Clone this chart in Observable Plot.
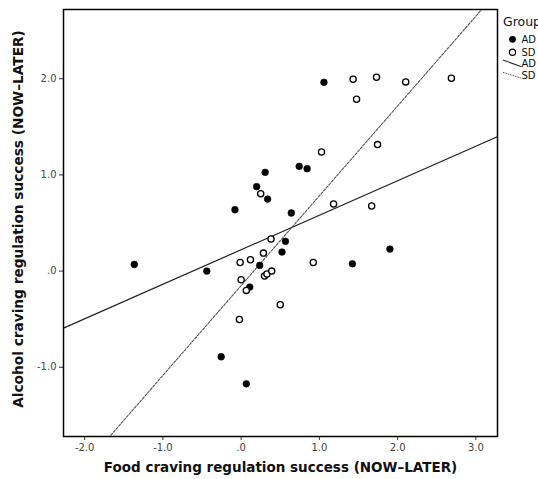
<!DOCTYPE html>
<html>
<head>
<meta charset="utf-8">
<script src="https://cdn.jsdelivr.net/npm/d3@7"></script>
<script src="https://cdn.jsdelivr.net/npm/@observablehq/plot@0.6"></script>
<style>
  html, body { margin: 0; padding: 0; background: #fff; }
  #chart { width: 538px; height: 479px; overflow: hidden; }
</style>
</head>
<body>
<div id="chart"></div>
<script>
// AD group (filled circles)
const adX = [-1.365, -0.439, -0.079, -0.255, 0.066, 0.11, 0.237, 0.198, 0.307, 0.338, 0.522, 0.566, 0.641, 0.742, 0.843, 1.058, 1.422, 1.901];
const adY = [0.069, 0.0, 0.638, -0.891, -1.172, -0.166, 0.059, 0.878, 1.027, 0.749, 0.198, 0.309, 0.604, 1.089, 1.065, 1.963, 0.076, 0.229];
// SD group (open circles)
const sdX = [-0.013, 0.0, -0.022, 0.066, 0.119, 0.25, 0.285, 0.299, 0.33, 0.382, 0.391, 0.5, 0.922, 1.027, 1.181, 1.431, 1.475, 1.668, 1.73, 1.743, 2.103, 2.687];
const sdY = [0.09, -0.09, -0.503, -0.201, 0.118, 0.805, 0.187, -0.052, -0.03, 0.333, 0.0, -0.35, 0.09, 1.238, 0.697, 1.994, 1.786, 0.676, 2.015, 1.315, 1.967, 2.005];
// Fit lines
const fitGroups = ["AD", "SD"];
const fitSlopes = [0.359, 0.934];
const fitIntercepts = [0.222, -0.151];
// Axes
const xDomain = [-2.27, 3.276];
const yDomain = [-1.72, 2.72];
const xTicks = [-2, -1, 0, 1, 2, 3];
const yTicks = [-1, 0, 1, 2];
const xLabel = "Food craving regulation success (NOW\u2013LATER)";
const yLabel = "Alcohol craving regulation success (NOW\u2013LATER)";
const legendTitle = "Group";
const legendLabels = ["AD", "SD", "AD", "SD"];

const points = [
  ...adX.map((x, i) => ({x, y: adY[i], group: "AD"})),
  ...sdX.map((x, i) => ({x, y: sdY[i], group: "SD"}))
];
const fitLines = fitGroups.flatMap((g, i) =>
  xDomain.map(x => ({x, y: fitIntercepts[i] + fitSlopes[i] * x, group: g}))
);
const fmt = d => d === 0 ? ".0" : d.toFixed(1);

const font = "'DejaVu Sans', Verdana, sans-serif";

const plot = Plot.plot({
  width: 538,
  height: 479,
  marginLeft: 63,
  marginRight: 41,
  marginTop: 9,
  marginBottom: 43,
  style: {fontFamily: font, background: "#fff", overflow: "hidden"},
  x: {domain: xDomain},
  y: {domain: yDomain},
  marks: [
    Plot.axisX({ticks: xTicks, tickFormat: fmt, tickSize: 4, tickPadding: 3, fontSize: 10, color: "#444", label: null, stroke: "#333"}),
    Plot.axisY({ticks: yTicks, tickFormat: fmt, tickSize: 4, tickPadding: 3, fontSize: 10, color: "#444", label: null, stroke: "#333"}),
    Plot.line(fitLines.filter(d => d.group === "AD"), {x: "x", y: "y", stroke: "#222", strokeWidth: 1.2, clip: true}),
    Plot.line(fitLines.filter(d => d.group === "SD"), {x: "x", y: "y", stroke: "#555", strokeWidth: 1.1, strokeDasharray: "2.5,1.5", clip: true}),
    Plot.dot(points.filter(d => d.group === "AD"), {x: "x", y: "y", r: 3.4, fill: "#000", stroke: "#000", strokeWidth: 0.5}),
    Plot.dot(points.filter(d => d.group === "SD"), {x: "x", y: "y", r: 3.1, fill: "#fff", stroke: "#000", strokeWidth: 1.3}),
    Plot.frame({stroke: "#000", strokeWidth: 1.5}),
    Plot.text([xLabel], {frameAnchor: "bottom", textAnchor: "middle", dy: 35, fontSize: 13.5, fontWeight: "bold", fill: "#111"}),
    Plot.text([yLabel], {frameAnchor: "left", textAnchor: "middle", dx: -45, dy: -4, rotate: -90, fontSize: 13.7, fontWeight: "bold", fill: "#111"})
  ]
});

document.getElementById("chart").appendChild(plot);

// Legend
const svg = d3.select(plot);
const lg = svg.append("g").attr("font-family", font).attr("text-anchor", "start");
lg.append("text").attr("x", 503).attr("y", 26).attr("font-size", 12.5).attr("fill", "#111").text(legendTitle);
lg.append("circle").attr("cx", 512.5).attr("cy", 39.3).attr("r", 3.4).attr("fill", "#000");
lg.append("circle").attr("cx", 512.5).attr("cy", 52.3).attr("r", 3.1).attr("fill", "#fff").attr("stroke", "#000").attr("stroke-width", 1.2);
lg.append("line").attr("x1", 503).attr("y1", 60).attr("x2", 521.5).attr("y2", 66.7).attr("stroke", "#222").attr("stroke-width", 1.1);
lg.append("line").attr("x1", 503).attr("y1", 72.3).attr("x2", 521.5).attr("y2", 78.3).attr("stroke", "#555").attr("stroke-width", 1).attr("stroke-dasharray", "1.5,1");
[39.3, 52.3, 63.5, 75.7].forEach((y, i) => {
  lg.append("text").attr("x", 521.5).attr("y", y).attr("dy", "0.35em").attr("font-size", 10).attr("fill", "#111").text(legendLabels[i]);
});
</script>
</body>
</html>
